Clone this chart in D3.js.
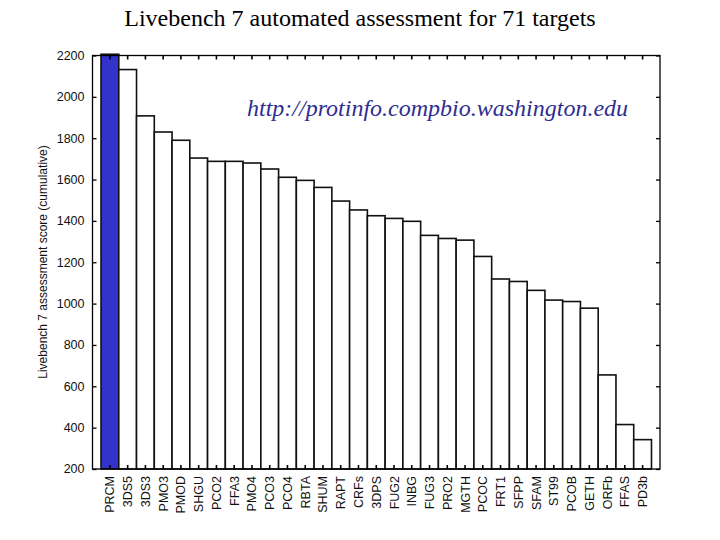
<!DOCTYPE html>
<html>
<head>
<meta charset="utf-8">
<script src="https://cdn.jsdelivr.net/npm/d3@7"></script>
<style>
  html, body { margin: 0; padding: 0; background: #fff; }
  svg { display: block; }
</style>
</head>
<body>
<svg id="chart" width="720" height="540"></svg>
<script>
const categories = ["PRCM","3DS5","3DS3","PMO3","PMOD","SHGU","PCO2","FFA3","PMO4","PCO3","PCO4","RBTA","SHUM","RAPT","CRFs","3DPS","FUG2","INBG","FUG3","PRO2","MGTH","PCOC","FRT1","SFPP","SFAM","ST99","PCOB","GETH","ORFb","FFAS","PD3b"];
const scores = [2206,2132,1908,1830,1790,1704,1688,1688,1680,1651,1611,1596,1562,1496,1453,1425,1412,1398,1330,1315,1307,1228,1119,1107,1064,1017,1010,978,655,415,342];
const yTicks = [200,400,600,800,1000,1200,1400,1600,1800,2000,2200];
const highlight = "PRCM";

const svg = d3.select("#chart");
const frame = {left: 92.5, right: 660, top: 55.5, bottom: 469};

const x = d3.scaleBand().domain(categories).range([frame.left, frame.right]).paddingInner(0).paddingOuter(0.48);
const y = d3.scaleLinear().domain([200, 2200]).range([frame.bottom, frame.top]);

// Title
svg.append("text")
  .attr("x", 360).attr("y", 26)
  .attr("text-anchor", "middle")
  .attr("font-family", "Liberation Serif, Times New Roman, serif")
  .attr("font-size", 24)
  .attr("fill", "#000")
  .text("Livebench 7 automated assessment for 71 targets");

// Bars
svg.append("g").selectAll("rect").data(categories).join("rect")
  .attr("x", d => x(d))
  .attr("width", x.bandwidth())
  .attr("y", (d, i) => y(scores[i]))
  .attr("height", (d, i) => y(200) - y(scores[i]))
  .attr("fill", d => d === highlight ? "#3333cc" : "#fff")
  .attr("stroke", "#111")
  .attr("stroke-width", 1.6);

// Frame
svg.append("rect")
  .attr("x", frame.left).attr("y", frame.top)
  .attr("width", frame.right - frame.left).attr("height", frame.bottom - frame.top)
  .attr("fill", "none").attr("stroke", "#000").attr("stroke-width", 1.3);

// Left axis (inward ticks)
const leftAxis = svg.append("g")
  .attr("transform", `translate(${frame.left},0)`)
  .call(d3.axisRight(y).tickValues(yTicks).tickSize(4).tickFormat(""));
leftAxis.select(".domain").remove();
leftAxis.selectAll("line").attr("stroke", "#000").attr("stroke-width", 1.3);

// Y tick labels
svg.append("g").selectAll("text").data(yTicks).join("text")
  .attr("x", 84.5)
  .attr("y", d => y(d))
  .attr("dy", "0.35em")
  .attr("text-anchor", "end")
  .attr("font-family", "Liberation Sans, Arial, sans-serif")
  .attr("font-size", 12.5)
  .attr("fill", "#111")
  .text(d => d);

// Right axis (inward ticks)
const rightAxis = svg.append("g")
  .attr("transform", `translate(${frame.right},0)`)
  .call(d3.axisLeft(y).tickValues(yTicks).tickSize(4).tickFormat(""));
rightAxis.select(".domain").remove();
rightAxis.selectAll("line").attr("stroke", "#000").attr("stroke-width", 1.3);

// Top axis ticks at bar centers (inward)
const topAxis = svg.append("g")
  .attr("transform", `translate(0,${frame.top})`)
  .call(d3.axisBottom(x).tickSize(4).tickFormat(""));
topAxis.select(".domain").remove();
topAxis.selectAll("line").attr("stroke", "#000").attr("stroke-width", 1.6);

// Bottom axis ticks (inward) and labels
const bottomAxis = svg.append("g")
  .attr("transform", `translate(0,${frame.bottom})`)
  .call(d3.axisTop(x).tickSize(4).tickFormat(""));
bottomAxis.select(".domain").remove();
bottomAxis.selectAll("line").attr("stroke", "#000").attr("stroke-width", 1.6);

svg.append("g").selectAll("text").data(categories).join("text")
  .attr("transform", d => `translate(${x(d) + x.bandwidth() / 2},476) rotate(-90)`)
  .attr("dy", "0.36em")
  .attr("text-anchor", "end")
  .attr("font-family", "Liberation Sans, Arial, sans-serif")
  .attr("font-size", 12.5)
  .attr("fill", "#111")
  .text(d => d);

// Y axis title
svg.append("text")
  .attr("transform", "translate(43,262) rotate(-90)")
  .attr("dy", "0.35em")
  .attr("text-anchor", "middle")
  .attr("font-family", "Liberation Sans, Arial, sans-serif")
  .attr("font-size", 12)
  .attr("fill", "#111")
  .text("Livebench 7 assessment score (cumulative)");

// URL annotation
svg.append("text")
  .attr("x", 247).attr("y", 116)
  .attr("font-family", "Liberation Serif, Times New Roman, serif")
  .attr("font-style", "italic")
  .attr("font-size", 24)
  .attr("fill", "#2e2e8f")
  .text("http://protinfo.compbio.washington.edu");
</script>
</body>
</html>
